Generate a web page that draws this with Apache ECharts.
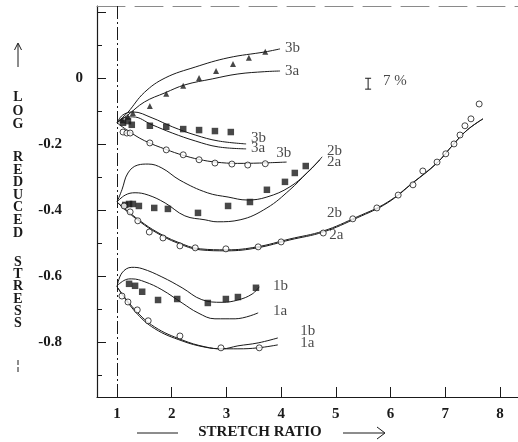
<!DOCTYPE html>
<html>
<head>
<meta charset="utf-8">
<script src="https://cdn.jsdelivr.net/npm/echarts@6/dist/echarts.min.js"></script>
<style>
  html, body { margin: 0; padding: 0; background: #fff; }
  #chart { width: 518px; height: 442px; }
</style>
</head>
<body>
<div id="chart"></div>
<script>
// Axis tick values
const xTickValues = [1, 2, 3, 4, 5, 6, 7, 8];
const yLabelValues = [0, -0.2, -0.4, -0.6, -0.8];
const yMajorTicks = [0.2, 0, -0.2, -0.4, -0.6, -0.8];
const yMinorTicks = [0.1, -0.1, -0.3, -0.5, -0.7, -0.9];

// Group 3: theory curves and measured points
const curve3bUpper = [[1,-0.136],[1.1,-0.12],[1.2,-0.104],[1.5,-0.044],[1.88,0],[2.43,0.033],[3.03,0.061],[3.71,0.079],[3.98,0.088]];
const curve3aUpper = [[1,-0.136],[1.2,-0.112],[1.5,-0.073],[1.88,-0.045],[2.24,-0.021],[2.74,-0.003],[3.21,0.012],[3.7,0.019],[3.98,0.021]];
const triangles3 = [[1.1,-0.128],[1.2,-0.118],[1.29,-0.106],[1.6,-0.085],[1.9,-0.048],[2.21,-0.024],[2.5,0.0],[2.81,0.021],[3.12,0.042],[3.41,0.061],[3.71,0.079]];
const curve3bMid = [[1,-0.136],[1.1,-0.113],[1.29,-0.103],[1.64,-0.121],[2.01,-0.148],[2.43,-0.173],[2.85,-0.191],[3.36,-0.2]];
const curve3aMid = [[1,-0.136],[1.1,-0.122],[1.29,-0.118],[1.64,-0.142],[2.01,-0.167],[2.43,-0.191],[2.85,-0.209],[3.36,-0.215]];
const squares3 = [[1.11,-0.136],[1.2,-0.131],[1.27,-0.142],[1.6,-0.145],[1.9,-0.148],[2.21,-0.155],[2.5,-0.158],[2.79,-0.161],[3.08,-0.164]];
const curve3Low = [[1,-0.136],[1.2,-0.16],[1.5,-0.19],[1.9,-0.217],[2.2,-0.234],[2.5,-0.247],[2.8,-0.255],[3.2,-0.259],[3.6,-0.258],[4.1,-0.255]];
const circles3 = [[1.11,-0.164],[1.18,-0.167],[1.24,-0.167],[1.6,-0.197],[1.9,-0.218],[2.21,-0.233],[2.5,-0.248],[2.79,-0.258],[3.1,-0.261],[3.39,-0.264],[3.71,-0.26]];

// Group 2
const curve2bUpper = [[1,-0.376],[1.09,-0.339],[1.2,-0.288],[1.38,-0.264],[1.57,-0.261],[1.82,-0.273],[2.15,-0.31],[2.65,-0.348],[3.03,-0.361],[3.38,-0.37],[3.74,-0.361],[4.16,-0.33],[4.53,-0.279],[4.75,-0.239]];
const curve2aUpper = [[1,-0.376],[1.15,-0.355],[1.33,-0.348],[1.57,-0.355],[1.88,-0.379],[2.24,-0.418],[2.61,-0.43],[2.83,-0.436],[3.25,-0.43],[3.74,-0.394],[4.16,-0.339],[4.47,-0.288],[4.71,-0.248]];
const squares2 = [[1.15,-0.385],[1.22,-0.382],[1.29,-0.382],[1.4,-0.388],[1.68,-0.394],[1.93,-0.397],[2.48,-0.409],[3.03,-0.388],[3.43,-0.376],[3.74,-0.339],[4.07,-0.315],[4.25,-0.288],[4.45,-0.267]];
const curve2bLower = [[1,-0.376],[1.11,-0.392],[1.42,-0.433],[1.73,-0.467],[2.1,-0.497],[2.52,-0.518],[3.01,-0.521],[3.56,-0.512],[4.16,-0.488],[4.77,-0.464],[5.39,-0.421],[5.94,-0.377],[6.41,-0.317],[6.85,-0.257],[7.14,-0.203],[7.4,-0.158],[7.69,-0.124]];
const curve2aLower = [[1,-0.376],[1.11,-0.394],[1.42,-0.436],[1.73,-0.47],[2.1,-0.5],[2.52,-0.521],[3.01,-0.524],[3.56,-0.515],[4.16,-0.491],[4.77,-0.467],[5.39,-0.424],[5.94,-0.379],[6.41,-0.318],[6.85,-0.258],[7.14,-0.203],[7.4,-0.158],[7.69,-0.124]];
const circles2 = [[1.13,-0.388],[1.24,-0.406],[1.38,-0.433],[1.59,-0.467],[1.84,-0.485],[2.15,-0.509],[2.43,-0.515],[2.99,-0.518],[3.58,-0.512],[4.0,-0.497],[4.77,-0.47],[5.31,-0.427],[5.75,-0.394],[6.14,-0.355],[6.41,-0.324],[6.59,-0.282],[6.85,-0.255],[7.01,-0.23],[7.16,-0.2],[7.27,-0.173],[7.36,-0.145],[7.47,-0.124],[7.62,-0.079]];

// Group 1
const curve1bUpper = [[1,-0.633],[1.09,-0.591],[1.27,-0.574],[1.46,-0.578],[1.82,-0.603],[2.19,-0.636],[2.55,-0.672],[2.92,-0.68],[3.21,-0.673],[3.47,-0.655],[3.6,-0.633]];
const curve1aUpper = [[1,-0.63],[1.15,-0.612],[1.27,-0.609],[1.51,-0.618],[1.82,-0.642],[2.19,-0.682],[2.48,-0.712],[2.79,-0.73],[3.16,-0.73],[3.58,-0.712]];
const squares1 = [[1.22,-0.624],[1.33,-0.63],[1.46,-0.648],[1.75,-0.673],[2.1,-0.67],[2.66,-0.682],[2.99,-0.67],[3.21,-0.664],[3.54,-0.636]];
const curve1bLower = [[1,-0.633],[1.33,-0.703],[1.69,-0.755],[2.19,-0.794],[2.61,-0.815],[2.92,-0.821],[3.21,-0.812],[3.58,-0.803],[3.94,-0.788]];
const curve1aLower = [[1,-0.633],[1.33,-0.708],[1.69,-0.76],[2.19,-0.797],[2.61,-0.816],[2.92,-0.821],[3.21,-0.821],[3.58,-0.818],[3.94,-0.809]];
const circles1 = [[1.09,-0.661],[1.2,-0.679],[1.37,-0.703],[1.57,-0.736],[2.15,-0.782],[2.9,-0.818],[3.6,-0.818]];

// Curve tags: [x, y, text]
const curveTags = [
  [4.07, 0.091, '3b'], [4.07, 0.021, '3a'],
  [3.45, -0.182, '3b'], [3.45, -0.212, '3a'], [3.91, -0.227, '3b'],
  [4.84, -0.221, '2b'], [4.84, -0.255, '2a'],
  [4.84, -0.409, '2b'], [4.88, -0.476, '2a'],
  [3.85, -0.630, '1b'], [3.85, -0.706, '1a'],
  [4.35, -0.767, '1b'], [4.35, -0.803, '1a'],
  [5.86, -0.009, '7 %']
];
// Error bar: [x, top, bottom]
const errorBar = [[5.59, -0.001, -0.034]];

const SERIF = '"Liberation Serif", "DejaVu Serif", serif';
const INK = '#1a1a1a';

function curve(data) {
  return {
    type: 'line', data: data, smooth: 0.4, showSymbol: false, symbol: 'none',
    lineStyle: { color: INK, width: 1 }, z: 2, silent: true
  };
}
function points(data, symbol, size, hollow) {
  return {
    type: 'scatter', data: data, symbol: symbol, symbolSize: size,
    itemStyle: hollow ? { color: '#fff', borderColor: INK, borderWidth: 1 } : { color: INK },
    z: 3, silent: true
  };
}

const chart = echarts.init(document.getElementById('chart'), null, { renderer: 'canvas' });

const xMin = 0.634, xMax = 8.33, yMin = -0.967, yMax = 0.218;

chart.setOption({
  animation: false,
  backgroundColor: '#fff',
  grid: { left: 97, right: 0, top: 6, bottom: 45, containLabel: false, outerBoundsMode: 'none' },
  xAxis: [{
    type: 'value', min: xMin, max: xMax, position: 'bottom',
    axisLine: { onZero: false, lineStyle: { color: INK, width: 1.2 } },
    axisTick: { inside: true, length: 10, customValues: xTickValues, lineStyle: { color: INK } },
    axisLabel: { customValues: xTickValues, margin: 10, color: INK, fontFamily: SERIF, fontWeight: 'bold', fontSize: 15 },
    splitLine: { show: false }
  }, {
    type: 'value', min: xMin, max: xMax, position: 'top',
    axisLine: { onZero: false, lineStyle: { color: '#8a8a8a', width: 1, type: [28, 10] } },
    axisTick: { show: false }, axisLabel: { show: false }, splitLine: { show: false }
  }],
  yAxis: [{
    type: 'value', min: yMin, max: yMax,
    axisLine: { onZero: false, lineStyle: { color: INK, width: 1.2 } },
    axisTick: { inside: true, length: 9, customValues: yMajorTicks, lineStyle: { color: INK } },
    axisLabel: {
      customValues: yLabelValues, margin: 14, color: INK,
      fontFamily: SERIF, fontWeight: 'bold', fontSize: 15,
      formatter: function (v) {
        const t = v === 0 ? '0' : v.toFixed(1);
        return v === 0 ? '{z|' + t + '}' : '{n|' + t + '}';
      },
      rich: {
        z: { fontFamily: SERIF, fontWeight: 'bold', fontSize: 15, color: INK },
        n: { fontFamily: SERIF, fontWeight: 'bold', fontSize: 15, color: INK, padding: [0, 21, 0, 0] }
      }
    },
    splitLine: { show: false }
  }, {
    type: 'value', min: yMin, max: yMax, position: 'left',
    axisLine: { show: false, onZero: false },
    axisTick: { inside: true, length: 5, customValues: yMinorTicks, lineStyle: { color: INK } },
    axisLabel: { show: false }, splitLine: { show: false }
  }],
  series: [
    curve(curve3bUpper), curve(curve3aUpper), points(triangles3, 'triangle', 6, false),
    curve(curve3bMid), curve(curve3aMid), points(squares3, 'rect', 6.5, false),
    curve(curve3Low), points(circles3, 'circle', 6, true),
    curve(curve2bUpper), curve(curve2aUpper), points(squares2, 'rect', 6.5, false),
    curve(curve2bLower), curve(curve2aLower), points(circles2, 'circle', 6, true),
    curve(curve1bUpper), curve(curve1aUpper), points(squares1, 'rect', 6.5, false),
    curve(curve1bLower), curve(curve1aLower), points(circles1, 'circle', 6, true),
    {
      type: 'scatter', data: curveTags, symbolSize: 0, silent: true, z: 4,
      label: {
        show: true, position: [0, 0], align: 'left', verticalAlign: 'middle',
        formatter: function (p) { return p.data[2]; },
        fontFamily: SERIF, fontSize: 15, color: INK
      },
      markLine: {
        silent: true, symbol: 'none', label: { show: false },
        lineStyle: { color: INK, width: 1, type: [13, 3, 2, 3] },
        data: [{ xAxis: 1 }]
      }
    },
    {
      type: 'custom', data: errorBar, silent: true, z: 4,
      renderItem: function (params, api) {
        const top = api.coord([api.value(0), api.value(1)]);
        const bot = api.coord([api.value(0), api.value(2)]);
        const st = { stroke: INK, lineWidth: 1 };
        return {
          type: 'group', children: [
            { type: 'line', shape: { x1: top[0], y1: top[1], x2: bot[0], y2: bot[1] }, style: st },
            { type: 'line', shape: { x1: top[0] - 3, y1: top[1], x2: top[0] + 3, y2: top[1] }, style: st },
            { type: 'line', shape: { x1: bot[0] - 3, y1: bot[1], x2: bot[0] + 3, y2: bot[1] }, style: st }
          ]
        };
      }
    }
  ],
  graphic: [
    // vertical axis title
    { type: 'line', shape: { x1: 18, y1: 67, x2: 18, y2: 44 }, style: { stroke: INK, lineWidth: 1 } },
    { type: 'polyline', shape: { points: [[14.5, 50], [18, 43], [21.5, 50]] }, style: { stroke: INK, lineWidth: 1, fill: null } },
    { type: 'text', x: 18, y: 91, style: { text: 'L\nO\nG', align: 'center', fontFamily: SERIF, fontWeight: 'bold', fontSize: 14, lineHeight: 13.5, fill: INK } },
    { type: 'text', x: 18, y: 151, style: { text: 'R\nE\nD\nU\nC\nE\nD', align: 'center', fontFamily: SERIF, fontWeight: 'bold', fontSize: 14, lineHeight: 12.6, fill: INK } },
    { type: 'text', x: 18, y: 256, style: { text: 'S\nT\nR\nE\nS\nS', align: 'center', fontFamily: SERIF, fontWeight: 'bold', fontSize: 14, lineHeight: 12.3, fill: INK } },
    { type: 'line', shape: { x1: 18, y1: 360, x2: 18, y2: 374 }, style: { stroke: INK, lineWidth: 1, lineDash: [5, 2] } },
    // horizontal axis title
    { type: 'line', shape: { x1: 137, y1: 433, x2: 178, y2: 433 }, style: { stroke: INK, lineWidth: 1 } },
    { type: 'text', x: 260, y: 432, style: { text: 'STRETCH RATIO', align: 'center', verticalAlign: 'middle', fontFamily: SERIF, fontWeight: 'bold', fontSize: 15, fill: INK } },
    { type: 'line', shape: { x1: 343, y1: 433, x2: 384, y2: 433 }, style: { stroke: INK, lineWidth: 1 } },
    { type: 'polyline', shape: { points: [[377, 427], [385, 433], [377, 439]] }, style: { stroke: INK, lineWidth: 1, fill: null } }
  ]
});
</script>
</body>
</html>
